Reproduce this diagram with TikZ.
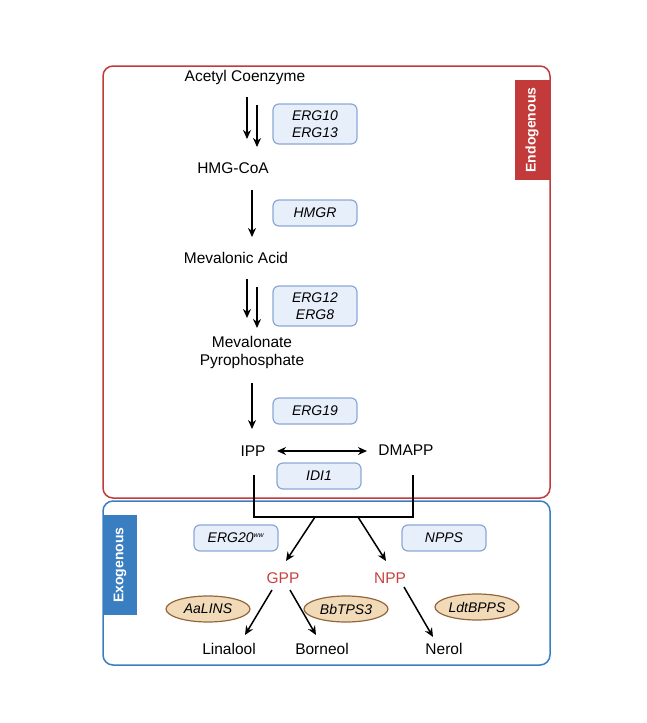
\documentclass[tikz,border=0pt]{standalone}
\usepackage{fontspec}
\setmainfont{Liberation Sans}
\usetikzlibrary{arrows.meta,shapes.geometric}
\definecolor{endored}{HTML}{C23B3A}
\definecolor{exoblue}{HTML}{3A7EC2}
\definecolor{genefill}{HTML}{E7EFFA}
\definecolor{genedraw}{HTML}{8BA7D6}
\definecolor{enzfill}{HTML}{F1DAB7}
\definecolor{enzdraw}{HTML}{94663A}
\definecolor{prodred}{HTML}{C8403F}
\tikzset{
  met/.style={font=\fontsize{15.5}{18}\selectfont, align=center, inner sep=0pt},
  gene/.style={draw=genedraw, fill=genefill, line width=1.2pt, rounded corners=6pt,
    minimum width=84pt, minimum height=26pt, font=\fontsize{14}{16.5}\selectfont\itshape, align=center, inner sep=2pt},
  enz/.style={ellipse, draw=enzdraw, fill=enzfill, line width=1.2pt, minimum width=84pt, minimum height=26pt,
    inner sep=0pt, font=\fontsize{14}{16}\selectfont\itshape},
  arr/.style={line width=1.5pt, -{Stealth[length=9pt,width=8pt]}},
  plain/.style={line width=1.5pt},
  tab/.style={font=\fontsize{14}{16}\selectfont\bfseries, text=white, rotate=90}
}
\begin{document}
\begin{tikzpicture}[x=1pt,y=-1pt]
\useasboundingbox (0,0) rectangle (647,723);
% boxes
\draw[endored, line width=1.5pt, rounded corners=10pt] (103,66) rectangle (550,498);
\draw[exoblue, line width=1.5pt, rounded corners=10pt] (103,501) rectangle (550,665);
\fill[endored] (515,80) rectangle (550,180);
\node[tab] (endo) at (532,130) {Endogenous};
\fill[exoblue] (103,515) rectangle (137,615);
\node[tab] (exo) at (120,565) {Exogenous};
% metabolites
\node[met] (acetyl) at (245,77) {Acetyl Coenzyme};
\node[met] (hmg) at (233,168) {HMG-CoA};
\node[met] (meva) at (236,258) {Mevalonic Acid};
\node[met] (mpp) at (252,352) {Mevalonate\\Pyrophosphate};
\node[met] (ipp) at (253,451) {IPP};
\node[met] (dmapp) at (406,450) {DMAPP};
\node[met, text=prodred] (gpp) at (283,578) {GPP};
\node[met, text=prodred] (npp) at (390,578) {NPP};
\node[met] (lin) at (229,649) {Linalool};
\node[met] (bor) at (322,649) {Borneol};
\node[met] (ner) at (444,649) {Nerol};
% genes
\node[gene, minimum height=40pt] (g1) at (315,124) {ERG10\\ERG13};
\node[gene] (g2) at (315,213) {HMGR};
\node[gene, minimum height=40pt] (g3) at (315,306) {ERG12\\ERG8};
\node[gene] (g4) at (315,411) {ERG19};
\node[gene] (g5) at (319,476) {IDI1};
\node[gene] (g6) at (236,538) {ERG20\textsuperscript{\fontsize{7}{8}\selectfont ww}};
\node[gene] (g7) at (444,538) {NPPS};
\node[enz] (e1) at (208,609) {AaLINS};
\node[enz] (e2) at (346,609) {BbTPS3};
\node[enz] (e3) at (477,607) {LdtBPPS};
% arrows
\coordinate (a1s) at (247,97); \coordinate (a1e) at (247,139);
\coordinate (a2s) at (257,105); \coordinate (a2e) at (257,147);
\draw[arr] (a1s) -- (a1e);
\draw[arr] (a2s) -- (a2e);
\coordinate (b1s) at (252,190); \coordinate (b1e) at (252,237);
\draw[arr] (b1s) -- (b1e);
\coordinate (c1s) at (247,279); \coordinate (c1e) at (247,318);
\coordinate (c2s) at (257,287); \coordinate (c2e) at (257,328);
\draw[arr] (c1s) -- (c1e);
\draw[arr] (c2s) -- (c2e);
\coordinate (d1s) at (252,383); \coordinate (d1e) at (252,429);
\draw[arr] (d1s) -- (d1e);
\coordinate (i1) at (277,451); \coordinate (i2) at (367,451);
\draw[line width=1.5pt, {Stealth[length=9pt,width=8pt]}-{Stealth[length=9pt,width=8pt]}] (i1) -- (i2);
% merge lines
\coordinate (m1) at (254,475); \coordinate (m2) at (254,517);
\coordinate (m3) at (413,517); \coordinate (m4) at (413,475);
\draw[plain, line join=miter] (m1) -- (m2) -- (m3) -- (m4);
\coordinate (f1) at (315,517); \coordinate (f1e) at (286,561);
\coordinate (f2) at (358,517); \coordinate (f2e) at (386,561);
\draw[arr] (f1) -- (f1e);
\draw[arr] (f2) -- (f2e);
\coordinate (p1) at (272,590); \coordinate (p1e) at (245,635);
\coordinate (p2) at (290,590); \coordinate (p2e) at (316,635);
\coordinate (p3) at (404,587); \coordinate (p3e) at (433,637);
\draw[arr] (p1) -- (p1e);
\draw[arr] (p2) -- (p2e);
\draw[arr] (p3) -- (p3e);
\end{tikzpicture}
\end{document}
